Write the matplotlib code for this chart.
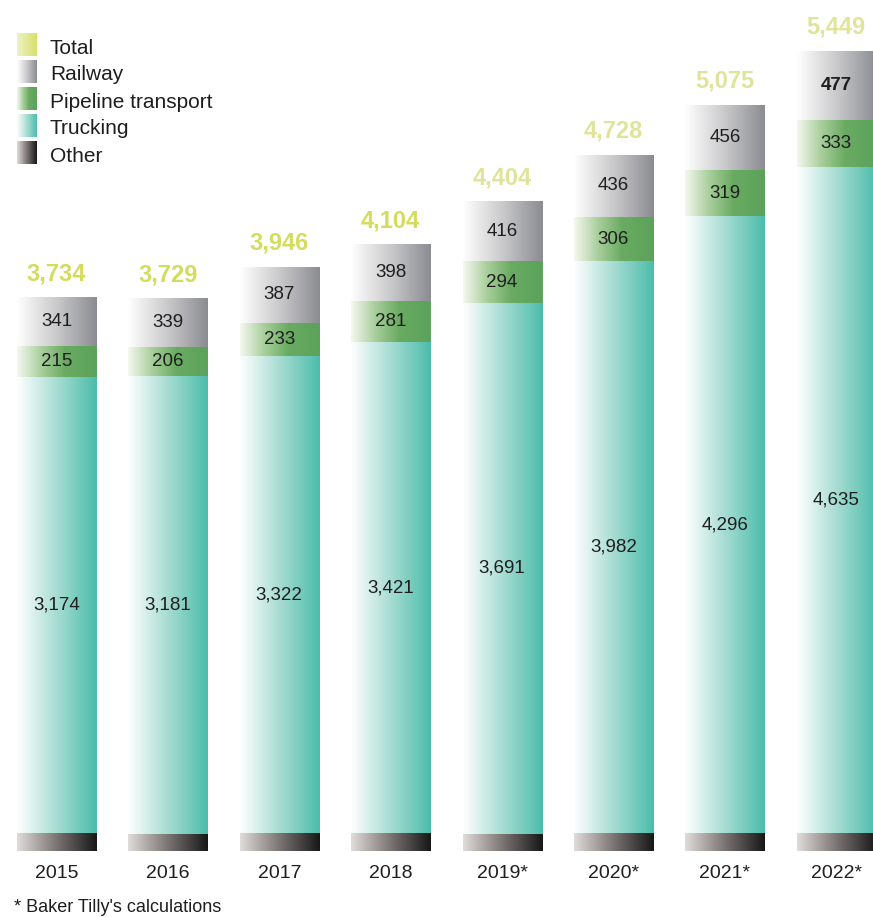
import numpy as np
import matplotlib
matplotlib.use("Agg")
import matplotlib.pyplot as plt
from matplotlib.colors import LinearSegmentedColormap

# ---------------- Data ----------------

YEARS = ["2015", "2016", "2017", "2018", "2019*", "2020*", "2021*", "2022*"]
TRUCKING = [3174, 3181, 3322, 3421, 3691, 3982, 4296, 4635]
PIPELINE = [215, 206, 233, 281, 294, 306, 319, 333]
RAILWAY = [341, 339, 387, 398, 416, 436, 456, 477]
OTHER = [4, 3, 4, 4, 3, 4, 4, 4]
TOTAL = [3734, 3729, 3946, 4104, 4404, 4728, 5075, 5449]

# ---------------- Style ----------------

FONT = ["Liberation Sans", "DejaVu Sans"]

CMAPS = {
    "Total": LinearSegmentedColormap.from_list("total", ["#eef2c4", "#d8e06a"]),
    "Railway": LinearSegmentedColormap.from_list("rail", ["#ffffff", "#c9c9cb", "#8b8c91"]),
    "Pipeline transport": LinearSegmentedColormap.from_list(
        "pipe", [(0, "#f5f8f0"), (0.3, "#a9cf9c"), (0.6, "#6aab62"), (1, "#5ba25a")]),
    "Trucking": LinearSegmentedColormap.from_list("truck", ["#ffffff", "#a6dcd2", "#4bbdab"]),
    "Other": LinearSegmentedColormap.from_list("other", ["#e0dcda", "#7a7472", "#171717"]),
}

TOTAL_COLORS = ["#d4dc5e"] * 4 + ["#e0e49a"] * 4
BAR_WIDTH = 0.71
OTHER_BAND = 118  # visible strip under the stack for the tiny "other" share

GRAD = np.linspace(0, 1, 256)[None, :]


def gradient_bars(ax, x, heights, bottoms, cmap):
    bars = ax.bar(x, heights, BAR_WIDTH, bottom=bottoms, color="none", linewidth=0)
    for rect in bars:
        x0, y0 = rect.get_x(), rect.get_y()
        im = ax.imshow(GRAD, cmap=cmap, aspect="auto", interpolation="bicubic",
                       extent=(x0, x0 + rect.get_width(), y0, y0 + rect.get_height()),
                       zorder=1)
        im.set_clip_path(rect)
    return bars


def main():
    W, H = 873, 917
    fig = plt.figure(figsize=(W / 100, H / 100), dpi=100)
    ax = fig.add_axes([0, 66 / H, 1, 851 / H])

    x = np.arange(len(YEARS))
    other = np.array(OTHER)
    truck = np.array(TRUCKING)
    pipe = np.array(PIPELINE)
    rail = np.array(RAILWAY)

    gradient_bars(ax, x, other + OTHER_BAND, -OTHER_BAND, CMAPS["Other"])
    b_truck = gradient_bars(ax, x, truck, other, CMAPS["Trucking"])
    b_pipe = gradient_bars(ax, x, pipe, other + truck, CMAPS["Pipeline transport"])
    b_rail = gradient_bars(ax, x, rail, other + truck + pipe, CMAPS["Railway"])

    # segment values
    for bars, vals in ((b_truck, TRUCKING), (b_pipe, PIPELINE), (b_rail, RAILWAY)):
        for i, (rect, v) in enumerate(zip(bars, vals)):
            bold = bars is b_rail and i == len(vals) - 1
            ax.text(rect.get_x() + rect.get_width() / 2, rect.get_y() + rect.get_height() / 2,
                    f"{v:,}", ha="center", va="center", fontsize=13.5, color="#1e1e1e",
                    family=FONT, fontweight="bold" if bold else "normal", zorder=3)

    # totals above each stack
    for i, t in enumerate(TOTAL):
        ax.annotate(f"{t:,}", (x[i], t), xytext=(0, 17), textcoords="offset points",
                    ha="center", va="center", fontsize=17, fontweight="bold",
                    color=TOTAL_COLORS[i], family=FONT)

    ax.set_xlim(-0.507, 7.33)
    ax.set_ylim(-118.3, 5803.8)
    ax.set_xticks(x)
    ax.set_xticklabels(YEARS, fontsize=14, family=FONT, color="#1e1e1e")
    ax.tick_params(axis="x", length=0, pad=10)
    ax.set_yticks([])
    for s in ax.spines.values():
        s.set_visible(False)

    # legend with gradient swatches
    for k, name in enumerate(["Total", "Railway", "Pipeline transport", "Trucking", "Other"]):
        top = 33 + 27 * k
        sw = fig.add_axes([17 / W, 1 - (top + 23) / H, 20 / W, 23 / H])
        sw.imshow(GRAD, cmap=CMAPS[name], aspect="auto", interpolation="bicubic")
        sw.axis("off")
        fig.text(50 / W, 1 - (top + 15) / H, name, ha="left", va="center",
                 fontsize=15, family=FONT, color="#1e1e1e")

    fig.text(14 / W, 1 - 907 / H, "* Baker Tilly's calculations", ha="left", va="center",
             fontsize=13, family=FONT, color="#1e1e1e")

    fig.savefig("out.png", dpi=100)
    plt.close(fig)


if __name__ == "__main__":
    main()
